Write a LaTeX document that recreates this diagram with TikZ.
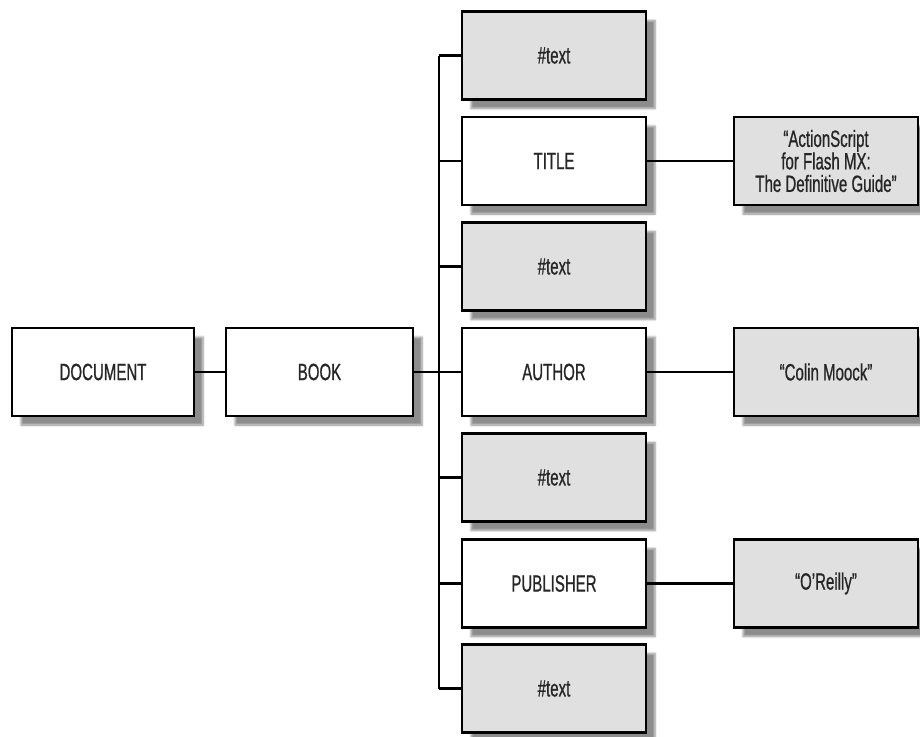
\documentclass[tikz,border=0pt]{standalone}
\usepackage{fontspec}
\setmainfont[FakeStretch=0.64, FakeBold=0.8]{Liberation Sans}
\usetikzlibrary{shadows.blur}
\tikzset{
    elbox/.style={draw=black, line width=2.6pt, fill=white, minimum width=184pt, minimum height=88pt,
        text=black!85, font=\fontsize{23.5}{22.5}\selectfont, align=center,
        blur shadow={shadow xshift=9pt, shadow yshift=-9pt, shadow blur steps=6, shadow opacity=45}},
    txtbox/.style={elbox, fill=black!12},
    link/.style={line width=2.4pt}
}
\begin{document}
\begin{tikzpicture}[x=1pt, y=-1pt]
    \useasboundingbox (0,0) rectangle (920,736);
    % Root and book
    \node[elbox, minimum width=182pt] (doc) at (103,372) {DOCUMENT};
    \node[elbox, minimum width=187pt] (book) at (319.5,372) {BOOK};
    \coordinate (bus) at (439,372);
    % Children of book
    \node[txtbox] (c1) at (554,55.5) {\#text};
    \node[elbox] (title) at (554,161) {TITLE};
    \node[txtbox] (c3) at (554,266.5) {\#text};
    \node[elbox] (author) at (554,372) {AUTHOR};
    \node[txtbox] (c5) at (554,477.5) {\#text};
    \node[elbox] (publisher) at (554,583.5) {PUBLISHER};
    \node[txtbox] (c7) at (554,688.5) {\#text};
    % Text values
    \node[txtbox] (titletext) at (826,161) {“ActionScript\\for Flash MX:\\The Definitive Guide”};
    \node[txtbox] (authortext) at (826,372) {“Colin Moock”};
    \node[txtbox] (pubtext) at (826,583.5) {“O’Reilly”};
    % Connectors
    \draw[link] (doc) -- (book);
    \draw[link] (book) -- (author);
    \draw[link] (c1.west -| bus) -- (c7.west -| bus);
    \foreach \n in {c1, title, c3, c5, publisher, c7}
        \draw[link] (\n.west) -- (\n.west -| bus);
    \draw[link] (title) -- (titletext);
    \draw[link] (author) -- (authortext);
    \draw[link] (publisher) -- (pubtext);
\end{tikzpicture}
\end{document}
